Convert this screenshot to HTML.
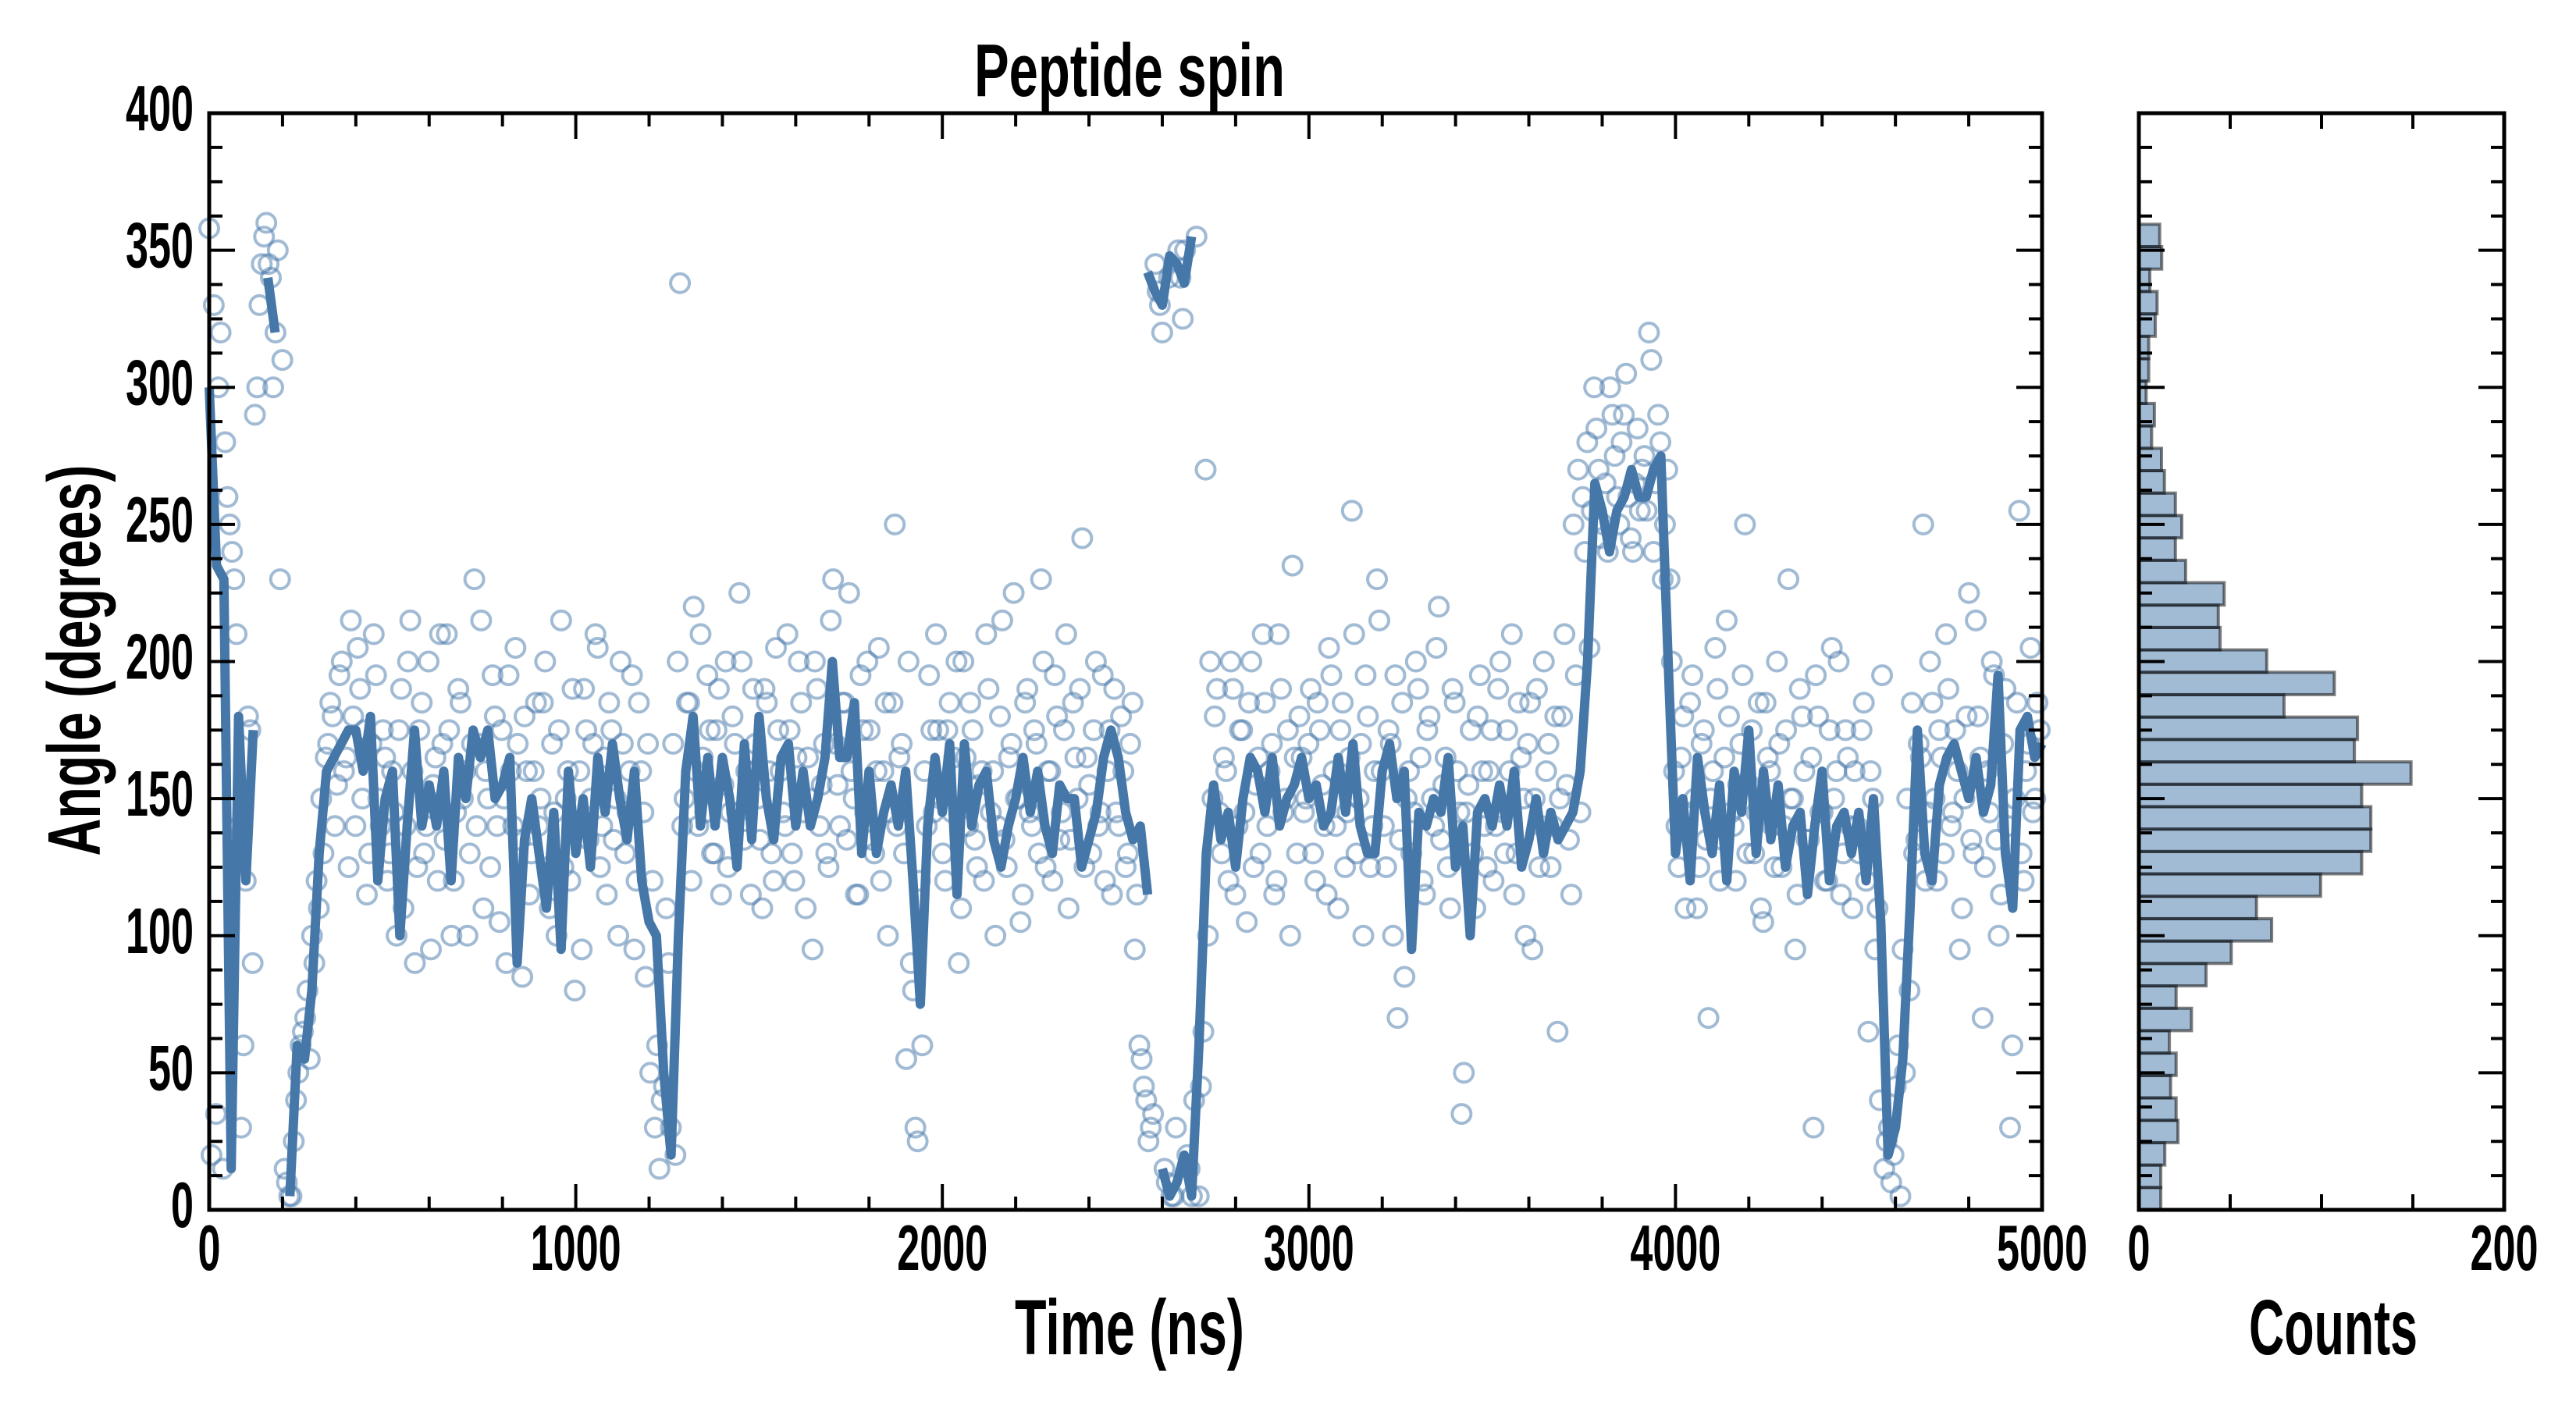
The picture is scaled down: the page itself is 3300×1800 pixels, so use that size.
<!DOCTYPE html>
<html><head><meta charset="utf-8"><title>Peptide spin</title>
<style>html,body{margin:0;padding:0;background:#fff;}svg{display:block;}text{font-family:"Liberation Sans",sans-serif;font-weight:bold;fill:#000;}</style>
</head><body>
<svg id="chart" width="3300" height="1800" viewBox="0 0 3300 1800" xmlns="http://www.w3.org/2000/svg">
<rect width="3300" height="1800" fill="#fff"/>
<g id="scatter"></g>
<g id="line"></g>
<g id="hist"></g>
<g id="axes"></g>
<text x="1447" y="123" font-size="96" text-anchor="middle" textLength="398" lengthAdjust="spacingAndGlyphs">Peptide spin</text>
<text x="1447" y="1735" font-size="100" text-anchor="middle" textLength="294" lengthAdjust="spacingAndGlyphs">Time (ns)</text>
<text x="2989" y="1735" font-size="100" text-anchor="middle" textLength="216" lengthAdjust="spacingAndGlyphs">Counts</text>
<text transform="translate(128,846) rotate(-90)" x="0" y="0" font-size="96" text-anchor="middle" textLength="501" lengthAdjust="spacingAndGlyphs">Angle (degrees)</text>
</svg>
<script>
const lineTimes = [0,20,40,60,80,100,120,140,160,180,200,220,240,260,280,300,320,340,360,380,400,420,440,460,480,500,520,540,560,580,600,620,640,660,680,700,720,740,760,780,800,820,840,860,880,900,920,940,960,980,1000,1020,1040,1060,1080,1100,1120,1140,1160,1180,1200,1220,1240,1260,1280,1300,1320,1340,1360,1380,1400,1420,1440,1460,1480,1500,1520,1540,1560,1580,1600,1620,1640,1660,1680,1700,1720,1740,1760,1780,1800,1820,1840,1860,1880,1900,1920,1940,1960,1980,2000,2020,2040,2060,2080,2100,2120,2140,2160,2180,2200,2220,2240,2260,2280,2300,2320,2340,2360,2380,2400,2420,2440,2460,2480,2500,2520,2540,2560,2580,2600,2620,2640,2660,2680,2700,2720,2740,2760,2780,2800,2820,2840,2860,2880,2900,2920,2940,2960,2980,3000,3020,3040,3060,3080,3100,3120,3140,3160,3180,3200,3220,3240,3260,3280,3300,3320,3340,3360,3380,3400,3420,3440,3460,3480,3500,3520,3540,3560,3580,3600,3620,3640,3660,3680,3700,3720,3740,3760,3780,3800,3820,3840,3860,3880,3900,3920,3940,3960,3980,4000,4020,4040,4060,4080,4100,4120,4140,4160,4180,4200,4220,4240,4260,4280,4300,4320,4340,4360,4380,4400,4420,4440,4460,4480,4500,4520,4540,4560,4580,4600,4620,4640,4660,4680,4700,4720,4740,4760,4780,4800,4820,4840,4860,4880,4900,4920,4940,4960,4980,5000];
const lineValues = [300,235,230,15,180,120,175,null,340,320,null,5,60,55,80,130,160,165,170,175,175,160,180,120,150,160,100,140,175,140,155,140,160,120,165,150,175,165,175,150,155,165,90,135,150,130,110,145,95,160,130,150,125,165,145,170,150,135,160,120,105,100,50,20,100,160,180,140,165,140,165,150,125,170,135,180,150,135,165,170,140,160,140,150,165,200,165,165,185,130,160,130,145,155,140,160,120,75,140,165,145,170,115,170,140,155,160,135,125,140,150,165,145,160,140,130,155,150,150,125,135,145,165,175,165,145,135,140,115,null,15,5,10,20,5,60,130,155,135,145,125,150,165,160,145,165,140,150,155,165,150,155,140,145,165,145,170,140,130,130,160,170,150,160,95,145,140,150,145,165,125,140,100,145,150,140,155,140,160,125,135,150,130,145,135,140,145,160,200,265,255,240,255,260,270,260,260,270,275,200,130,150,120,165,145,130,155,120,160,145,175,130,160,135,155,125,140,145,115,140,160,120,140,145,130,145,120,150,105,20,30,55,110,175,130,120,155,165,170,160,150,165,145,155,195,130,110,175,180,165,170];
const highTimes = [2560,2580,2600,2620,2640,2660,2680];
const highValues = [342,335,330,348,345,338,355];
const scatterValues = [358,330,300,15,260,240,210,30,120,175,290,330,355,345,300,350,310,10,5,40,60,70,55,90,110,130,170,180,155,200,165,215,140,190,175,130,210,150,175,120,
160,100,190,140,215,90,175,130,200,155,120,170,210,100,145,185,160,130,230,170,110,150,195,140,175,90,160,205,135,180,115,160,140,185,125,170,100,215,150,120,
80,160,190,135,170,205,140,115,175,150,200,130,160,95,185,145,170,120,60,40,110,30,20,338,150,185,220,140,165,195,130,175,115,200,145,170,225,135,160,190,
150,110,185,130,205,160,140,175,120,200,145,165,95,190,155,130,215,170,140,185,225,150,115,175,200,135,160,120,185,145,250,165,130,200,80,25,60,140,175,210,
150,120,185,165,90,200,140,175,125,160,210,145,100,180,135,165,225,150,115,190,140,170,230,125,160,195,135,175,110,185,150,245,165,130,200,145,120,175,190,140,
160,130,185,115,55,40,30,345,330,15,340,5,350,325,20,5,355,45,270,200,180,145,165,120,190,140,175,105,200,155,130,185,160,115,210,145,175,235,130,165,
150,190,120,175,140,205,160,110,185,145,255,130,170,195,125,160,215,140,175,100,70,185,150,130,200,165,115,180,140,220,155,125,190,160,35,145,175,110,195,140,
160,120,190,145,175,210,130,165,100,185,150,125,200,170,140,65,180,155,115,195,145,240,205,300,270,250,240,290,260,280,305,245,265,255,275,320,240,290,230,270,
200,140,165,110,185,150,125,175,70,160,190,135,215,145,120,170,250,155,130,185,105,165,140,200,125,175,150,95,190,160,135,30,180,145,120,205,160,115,175,140,
160,130,185,65,150,110,195,25,10,45,5,50,80,130,170,250,145,185,120,165,210,140,175,95,150,225,130,180,70,160,200,135,115,190,30,150,255,120,170,145,185];
const scatterValues2 = [20,35,320,280,250,230,140,60,180,90,300,345,360,340,320,230,15,5,25,50,65,80,100,120,150,165,185,140,195,160,125,180,205,150,115,170,195,140,165,130,
145,175,110,200,160,125,185,140,95,165,210,135,175,120,190,150,100,170,140,215,160,125,180,105,150,195,140,170,85,160,130,185,150,200,110,145,175,125,160,190,
140,95,175,150,210,125,165,185,135,100,170,145,195,120,160,85,50,30,15,45,90,170,200,140,185,120,160,210,145,175,130,190,155,125,180,145,200,160,115,170,
135,190,160,120,175,145,210,130,165,185,110,150,200,140,170,125,230,155,185,135,160,115,195,145,175,130,205,160,100,185,140,170,55,90,30,120,160,195,145,175,
130,175,145,200,110,165,185,135,155,120,190,160,140,215,125,170,150,105,185,145,175,130,200,160,120,180,145,210,135,165,190,125,155,175,140,195,160,115,145,180,
125,170,95,60,45,25,35,335,320,10,5,30,340,350,15,40,5,65,100,150,190,130,160,200,115,175,145,185,125,165,210,140,170,120,190,150,100,165,180,145,
170,130,185,155,115,195,140,175,125,165,210,150,100,180,140,230,160,125,170,195,135,85,160,145,190,120,175,150,205,135,165,110,185,145,50,155,130,180,160,125,
175,140,200,130,160,115,185,150,170,95,190,140,160,125,180,150,210,135,250,270,260,280,255,285,245,265,300,275,250,290,260,240,285,270,255,310,265,280,250,230,
160,125,180,145,195,110,170,135,150,205,120,165,180,140,155,195,130,175,145,110,185,160,125,170,140,230,150,115,180,135,165,195,145,120,175,150,200,130,165,110,
140,175,120,160,95,40,15,30,20,60,95,150,185,135,165,120,200,150,175,130,190,145,160,110,180,135,215,165,125,145,195,100,170,140,60,185,130,160,205,150,175];
const histCounts = [12,12,14.2,21.4,20.4,17.4,20.4,16.7,28.8,20.4,36.8,50.6,72.7,64.4,99.5,122,127,127,122,149,118,119.7,79.5,107,70,44.5,43.5,46.7,25.6,20,23.5,20,14,12.4,7,8.5,4,5.4,5.4,9,10,6,12.5,11.4];
const binWidth = 8.17;
const xTicks = [0,1000,2000,3000,4000,5000];
const yTicks = [0,50,100,150,200,250,300,350,400];
const histTicks = [0,200];

const NS = "http://www.w3.org/2000/svg";
const X0 = 268, X1 = 2616, Y0 = 1550, Y1 = 145, H0 = 2740, H1 = 3208;
const xScale = t => X0 + (t / 5000) * (X1 - X0);
const yScale = v => Y0 - (v / 400) * (Y0 - Y1);
const hScale = c => H0 + (c / 200) * (H1 - H0);
const COLOR = "#4677a9";
function mk(tag, attrs, parent) {
  const e = document.createElementNS(NS, tag);
  for (const k in attrs) e.setAttribute(k, attrs[k]);
  parent.appendChild(e);
  return e;
}
const scatterG = document.getElementById("scatter");
function drawScatter(vals, offset) {
  const step = 5000 / vals.length;
  vals.forEach((v, i) => {
    const c = mk("circle", {cx: xScale(Math.min(5000, (i + offset) * step)), cy: yScale(v), r: 12, fill: "none", stroke: COLOR, "stroke-opacity": 0.5, "stroke-width": 4}, scatterG);
    
    
  });
}
drawScatter(scatterValues, 0);
drawScatter(scatterValues2, 0.5);
function drawLine(times, vals, g, name) {
  let d = "", pen = false;
  vals.forEach((v, i) => {
    if (v === null) { pen = false; return; }
    d += (pen ? "L" : "M") + xScale(times[i]).toFixed(1) + "," + yScale(v).toFixed(1);
    pen = true;
  });
  const p = mk("path", {d: d, fill: "none", stroke: COLOR, "stroke-width": 12, "stroke-linejoin": "round"}, g);
  
  
}
const lineG = document.getElementById("line");
drawLine(lineTimes, lineValues, lineG, 'mean-line-path');
drawLine(highTimes, highValues, lineG, 'mean-line-wrapped-segment');
const histG = document.getElementById("hist");
histCounts.forEach((c, i) => {
  const yTop = yScale((i + 1) * binWidth), yBot = yScale(i * binWidth);
  const r = mk("rect", {x: H0, y: yTop, width: hScale(c) - H0, height: yBot - yTop, fill: COLOR, "fill-opacity": 0.5, stroke: "#000", "stroke-opacity": 0.5, "stroke-width": 4}, histG);
  
  
});
const ax = document.getElementById("axes");
function line(x1, y1, x2, y2, w, name) {
  const l = mk("line", {x1: x1, y1: y1, x2: x2, y2: y2, stroke: "#000", "stroke-width": w}, ax);
  
  
}
function label(x, y, s, anchor, name) {
  const t = mk("text", {x: x, y: y, "font-size": 83, "text-anchor": anchor, textLength: 29 * s.length, lengthAdjust: "spacingAndGlyphs"}, ax);
  t.textContent = s;
  
  
}
[[X0, X1], [H0, H1]].forEach(([a, b]) => {
  const r = mk("rect", {x: a, y: Y1, width: b - a, height: Y0 - Y1, fill: "none", stroke: "#000", "stroke-width": 5}, ax);
  
  
});
for (let v = 0; v <= 400; v += 12.5) {
  const major = v % 50 === 0, L = major ? 33 : 17, y = yScale(v);
  line(X0, y, X0 + L, y, 4, 'y-tick');
  line(X1, y, X1 - L, y, 4, 'y-tick');
  line(H0, y, H0 + L, y, 4, 'hist-y-tick');
  line(H1, y, H1 - L, y, 4, 'hist-y-tick');
}
yTicks.forEach(v => label(X0 - 20, yScale(v) + 22, String(v), "end", 'y-tick-label'));
for (let t = 0; t <= 5000; t += 200) {
  const major = t % 1000 === 0, L = major ? 33 : 17, x = xScale(t);
  line(x, Y0, x, Y0 - L, 4, 'x-tick');
  line(x, Y1, x, Y1 + L, 4, 'x-tick');
}
xTicks.forEach(t => label(xScale(t), 1627, String(t), "middle", 'x-tick-label'));
for (let c = 0; c <= 200; c += 50) {
  const L = (c % 200 === 0) ? 33 : 20, x = hScale(c);
  line(x, Y0, x, Y0 - L, 4, 'hist-x-tick');
  line(x, Y1, x, Y1 + L, 4, 'hist-x-tick');
}
histTicks.forEach(c => label(hScale(c), 1627, String(c), "middle", 'hist-x-tick-label'));
</script>
</body></html>
